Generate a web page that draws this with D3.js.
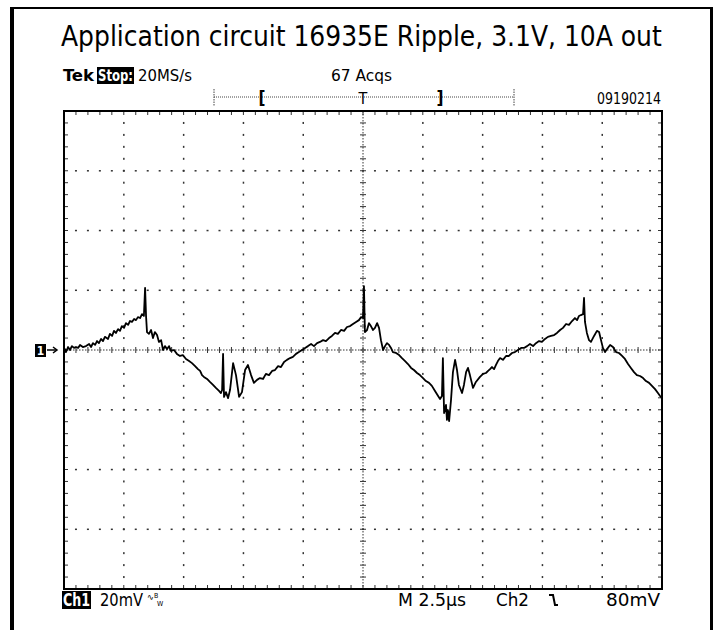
<!DOCTYPE html>
<html><head><meta charset="utf-8">
<script src="https://cdn.jsdelivr.net/npm/d3@7"></script>
<style>body{margin:0;background:#fff} svg{display:block}</style>
</head><body><svg id="c" width="717" height="630"></svg>
<script>
const titleText = "Application circuit 16935E Ripple, 3.1V, 10A out";
// Trace: time in µs (10 div × 2.5 µs), Ch1 in mV (20 mV/div)
const timeUs = [0,0.04,0.08,0.17,0.25,0.33,0.42,0.50,0.59,0.67,0.79,0.92,1.05,1.13,1.21,1.30,1.38,1.46,1.55,1.63,1.71,1.84,1.92,2.01,2.09,2.17,2.26,2.34,2.42,2.51,2.59,2.68,2.76,2.84,2.93,3.01,3.09,3.18,3.26,3.34,3.39,3.43,3.47,3.55,3.64,3.72,3.80,3.89,3.97,4.06,4.14,4.22,4.31,4.39,4.47,4.60,4.72,4.85,4.97,5.10,5.23,5.35,5.48,5.60,5.69,5.77,5.85,5.98,6.10,6.23,6.35,6.48,6.56,6.61,6.65,6.69,6.77,6.86,6.94,7.07,7.19,7.32,7.44,7.57,7.69,7.82,7.94,8.07,8.19,8.32,8.44,8.57,8.70,8.82,8.95,9.07,9.20,9.32,9.45,9.57,9.70,9.82,9.95,10.08,
10.20,10.33,10.45,10.58,10.70,10.83,10.95,11.08,11.20,11.33,11.45,11.58,11.71,11.83,11.96,12.08,12.21,12.33,12.42,12.50,12.54,12.58,12.67,12.75,12.83,12.92,13.00,13.09,13.17,13.25,13.34,13.42,13.50,13.59,13.67,13.75,13.88,14.01,14.13,14.26,14.38,14.51,14.63,14.76,14.88,15.01,15.13,15.26,15.38,15.51,15.64,15.72,15.80,15.84,15.89,15.97,16.01,16.05,16.10,16.18,16.26,16.35,16.43,16.51,16.64,16.72,16.81,16.89,16.97,17.10,17.22,17.39,17.52,17.64,17.73,17.81,17.89,17.98,18.06,18.14,18.23,18.35,18.48,18.60,18.73,18.85,18.98,19.11,19.23,19.36,19.48,19.61,19.73,19.86,19.98,20.11,20.23,20.36,20.49,20.61,20.74,20.86,20.99,21.11,21.24,21.36,21.45,21.53,21.61,21.70,21.74,21.78,21.86,21.95,22.03,22.16,22.28,22.37,22.45,22.53,22.62,22.70,22.83,22.95,23.08,23.20,23.33,23.45,23.58,23.70,23.83,23.95,24.08,24.21,24.33,24.46,24.58,24.71,24.83,24.92,25.00];
const ch1mV = [-1.3,0.3,-0.7,1.0,0,1.3,0.7,1.0,0.7,1.7,1.0,1.3,2.0,1.0,2.3,1.7,3.0,2.3,3.7,3.0,4.4,3.7,5.4,4.7,6.4,5.7,7.0,6.4,8.0,7.4,9.0,8.4,9.7,9.4,10.4,10.0,11.0,10.7,12.0,11.4,20.8,11.4,6.0,5.4,6.7,4.0,6.0,5.0,2.7,3.3,0,1.3,0.3,1.3,-0.3,0,-1.3,-2.0,-1.7,-3.0,-3.7,-4.4,-5.4,-6.4,-7.0,-8.4,-9.0,-9.7,-10.7,-11.7,-12.7,-13.7,-14.4,-13.4,-1.3,-15.7,-14.1,-16.1,-13.4,-4.4,-8.4,-15.7,-14.1,-6.7,-5.0,-8.4,-11.0,-10.0,-9.4,-9.7,-8.0,-8.4,-7.0,-6.7,-5.4,-5.7,-4.0,-3.3,-2.7,-2.3,-1.3,-0.7,0,0.7,
1.3,2.0,1.3,2.3,2.7,3.3,3.0,4.0,4.7,5.7,5.4,6.7,6.4,7.7,8.0,8.7,9.4,10.0,11.0,10.7,21.4,6.0,6.7,9.0,8.0,6.7,7.4,9.0,7.4,3.3,0,1.3,2.3,1.7,0.7,-0.7,-1.0,-1.7,-2.7,-3.7,-4.7,-6.0,-6.7,-7.7,-8.4,-9.4,-10.4,-11.0,-12.0,-13.7,-15.4,-16.4,-15.4,-2.7,-21.1,-18.4,-23.4,-20.1,-23.8,-16.7,-7.4,-3.3,-6.7,-11.7,-14.4,-11.7,-7.4,-6.0,-8.4,-12.7,-10.7,-9.0,-8.0,-7.7,-7.0,-6.4,-5.7,-6.4,-5.0,-3.7,-2.7,-3.3,-2.0,-2.0,-1.0,-0.7,0,0.7,0.7,1.3,2.0,1.3,2.3,3.0,2.7,3.7,4.4,4.7,5.0,5.7,6.7,7.4,8.7,8.4,9.7,10.7,10.0,11.4,11.7,12.0,17.4,9.4,5.7,3.3,2.7,4.7,6.4,6.0,3.3,0.7,-0.7,0.3,1.7,1.0,-0.7,-1.0,-2.0,-3.0,-4.7,-6.0,-7.4,-8.4,-8.7,-9.4,-10.4,-11.0,-12.0,-13.1,-14.4,-15.4,-16.1];
const timeDomain = [0, 25];
const voltDomain = [-80, 80];
const statusTop = ["Tek", "Stop:", "20MS/s", "67 Acqs", "09190214"];
const statusBottom = ["Ch1", "20mV", "M 2.5\u00b5s", "Ch2", "80mV"];

const svg = d3.select("#c");
const W = 717, H = 630;
svg.append("rect").attr("width", W).attr("height", H).attr("fill", "#fff");

// outer frame
svg.append("rect").attr("x", 10).attr("y", 7).attr("width", 4).attr("height", H - 7).attr("fill", "#000");
svg.append("rect").attr("x", 10).attr("y", 7).attr("width", 703).attr("height", 2).attr("fill", "#000");
svg.append("rect").attr("x", 710).attr("y", 7).attr("width", 3).attr("height", H - 7).attr("fill", "#000");

const font = "'Liberation Sans Narrow','DejaVu Sans Condensed','Roboto Condensed',sans-serif";

// title: font size fitted to the reference span (x 61 → 662)
const title = svg.append("text").attr("x", 61).attr("y", 46)
  .attr("font-family", font).attr("font-size", 30).attr("font-stretch", "condensed")
  .attr("fill", "#000").text(titleText);
const tw = title.node().getComputedTextLength();
title.attr("font-size", 30 * 601 / tw);

const x = d3.scaleLinear().domain(timeDomain).range([64, 662]);
const y = d3.scaleLinear().domain(voltDomain).range([589, 111]);

const g = svg.append("g");
const gridCol = "#333";
const majorX = d3.range(0, 25.001, 2.5);
const minorX = d3.range(0, 25.001, 0.5);
const majorY = d3.range(-80, 80.001, 20);
const minorY = d3.range(-80, 80.001, 4);

// grid dots
majorX.slice(1, -1).forEach(t => {
  if (Math.abs(t - 12.5) < 1e-6) return;
  minorY.slice(1, -1).forEach(v => {
    g.append("rect").attr("x", x(t) - 0.7).attr("y", y(v) - 1).attr("width", 1.5).attr("height", 2).attr("fill", gridCol);
  });
});
majorY.slice(1, -1).forEach(v => {
  if (Math.abs(v) < 1e-6) return;
  minorX.slice(1, -1).forEach(t => {
    g.append("rect").attr("x", x(t) - 1).attr("y", y(v) - 0.7).attr("width", 2).attr("height", 1.5).attr("fill", gridCol);
  });
});
// center lines
g.append("line").attr("x1", x(0)).attr("x2", x(25)).attr("y1", y(0)).attr("y2", y(0))
  .attr("stroke", gridCol).attr("stroke-width", 1).attr("stroke-dasharray", "1.5,1.5");
g.append("line").attr("x1", x(12.5)).attr("x2", x(12.5)).attr("y1", y(80)).attr("y2", y(-80))
  .attr("stroke", gridCol).attr("stroke-width", 1).attr("stroke-dasharray", "1.5,1.5");
minorX.forEach(t => {
  g.append("line").attr("x1", x(t)).attr("x2", x(t)).attr("y1", y(0) - 3).attr("y2", y(0) + 3).attr("stroke", gridCol).attr("stroke-width", 1);
  g.append("line").attr("x1", x(t)).attr("x2", x(t)).attr("y1", y(80)).attr("y2", y(80) + 4).attr("stroke", gridCol).attr("stroke-width", 1);
  g.append("line").attr("x1", x(t)).attr("x2", x(t)).attr("y1", y(-80)).attr("y2", y(-80) - 4).attr("stroke", gridCol).attr("stroke-width", 1);
});
minorY.forEach(v => {
  g.append("line").attr("y1", y(v)).attr("y2", y(v)).attr("x1", x(12.5) - 3).attr("x2", x(12.5) + 3).attr("stroke", gridCol).attr("stroke-width", 1);
  g.append("line").attr("y1", y(v)).attr("y2", y(v)).attr("x1", x(0)).attr("x2", x(0) + 4).attr("stroke", gridCol).attr("stroke-width", 1);
  g.append("line").attr("y1", y(v)).attr("y2", y(v)).attr("x1", x(25)).attr("x2", x(25) - 4).attr("stroke", gridCol).attr("stroke-width", 1);
});
// graticule frame
g.append("rect").attr("x", x(0)).attr("y", y(80)).attr("width", x(25) - x(0)).attr("height", y(-80) - y(80))
  .attr("fill", "none").attr("stroke", "#000").attr("stroke-width", 2);

// trace
const pts = timeUs.map((t, i) => [t, ch1mV[i]]);
svg.append("path").datum(pts)
  .attr("d", d3.line().x(d => x(d[0])).y(d => y(d[1])))
  .attr("fill", "none").attr("stroke", "#000").attr("stroke-width", 1.8).attr("stroke-linejoin", "round");

// top status line
const st = svg.append("g").attr("font-family", font).attr("font-stretch", "condensed").attr("fill", "#000");
st.append("text").attr("x", 63).attr("y", 81).attr("font-size", 16).attr("font-weight", "bold")
  .attr("textLength", 31).attr("lengthAdjust", "spacingAndGlyphs").text(statusTop[0]);
st.append("rect").attr("x", 97).attr("y", 67).attr("width", 37).attr("height", 17).attr("fill", "#000");
st.append("text").attr("x", 98).attr("y", 81).attr("font-size", 16).attr("font-weight", "bold").attr("fill", "#fff")
  .attr("textLength", 35).attr("lengthAdjust", "spacingAndGlyphs").text(statusTop[1]);
st.append("text").attr("x", 138).attr("y", 81).attr("font-size", 16)
  .attr("textLength", 54).attr("lengthAdjust", "spacingAndGlyphs").text(statusTop[2]);
st.append("text").attr("x", 331).attr("y", 81).attr("font-size", 16)
  .attr("textLength", 61).attr("lengthAdjust", "spacingAndGlyphs").text(statusTop[3]);
st.append("text").attr("x", 597).attr("y", 104).attr("font-size", 15)
  .attr("textLength", 64).attr("lengthAdjust", "spacingAndGlyphs").text(statusTop[4]);

// record/trigger bracket bar
st.append("line").attr("x1", 214).attr("x2", 514).attr("y1", 97).attr("y2", 97).attr("stroke", "#444").attr("stroke-dasharray", "1,1");
[214, 514].forEach(px => st.append("line").attr("x1", px).attr("x2", px).attr("y1", 89).attr("y2", 106).attr("stroke", "#444").attr("stroke-dasharray", "1.5,1"));
st.append("text").attr("x", 262).attr("y", 104).attr("font-size", 17).attr("font-weight", "bold").attr("text-anchor", "middle").text("[");
st.append("text").attr("x", 363).attr("y", 104).attr("font-size", 16).attr("text-anchor", "middle").text("T");
st.append("text").attr("x", 440).attr("y", 104).attr("font-size", 17).attr("font-weight", "bold").attr("text-anchor", "middle").text("]");

// bottom status line
st.append("rect").attr("x", 62).attr("y", 591).attr("width", 29).attr("height", 18).attr("fill", "#000");
st.append("text").attr("x", 63).attr("y", 606).attr("font-size", 17).attr("font-weight", 600).attr("fill", "#fff")
  .attr("textLength", 27).attr("lengthAdjust", "spacingAndGlyphs").text(statusBottom[0]);
st.append("text").attr("x", 100).attr("y", 606).attr("font-size", 17)
  .attr("textLength", 43).attr("lengthAdjust", "spacingAndGlyphs").text(statusBottom[1]);
st.append("text").attr("x", 147).attr("y", 600).attr("font-size", 9).text("\u223f");
st.append("text").attr("x", 154).attr("y", 598).attr("font-size", 7).text("B");
st.append("text").attr("x", 157).attr("y", 606).attr("font-size", 7).text("W");
st.append("text").attr("x", 398).attr("y", 606).attr("font-size", 17)
  .attr("textLength", 68).attr("lengthAdjust", "spacingAndGlyphs").text(statusBottom[2]);
st.append("text").attr("x", 496).attr("y", 606).attr("font-size", 17)
  .attr("textLength", 33).attr("lengthAdjust", "spacingAndGlyphs").text(statusBottom[3]);
st.append("path").attr("d", "M549,595 H553 L555,605 H558").attr("fill", "none").attr("stroke", "#000").attr("stroke-width", 2);
st.append("text").attr("x", 606).attr("y", 606).attr("font-size", 17)
  .attr("textLength", 54).attr("lengthAdjust", "spacingAndGlyphs").text(statusBottom[4]);

// channel 1 ground marker
st.append("rect").attr("x", 35).attr("y", 344).attr("width", 11).attr("height", 13).attr("fill", "#000");
st.append("text").attr("x", 40.5).attr("y", 355).attr("font-size", 12).attr("font-weight", "bold").attr("fill", "#fff").attr("text-anchor", "middle").text("1");
st.append("line").attr("x1", 47).attr("x2", 56).attr("y1", y(0)).attr("y2", y(0)).attr("stroke", "#000").attr("stroke-width", 1.5);
st.append("path").attr("d", `M53,${y(0) - 3} L57,${y(0)} L53,${y(0) + 3}`).attr("fill", "none").attr("stroke", "#000").attr("stroke-width", 1.5);
</script></body></html>
